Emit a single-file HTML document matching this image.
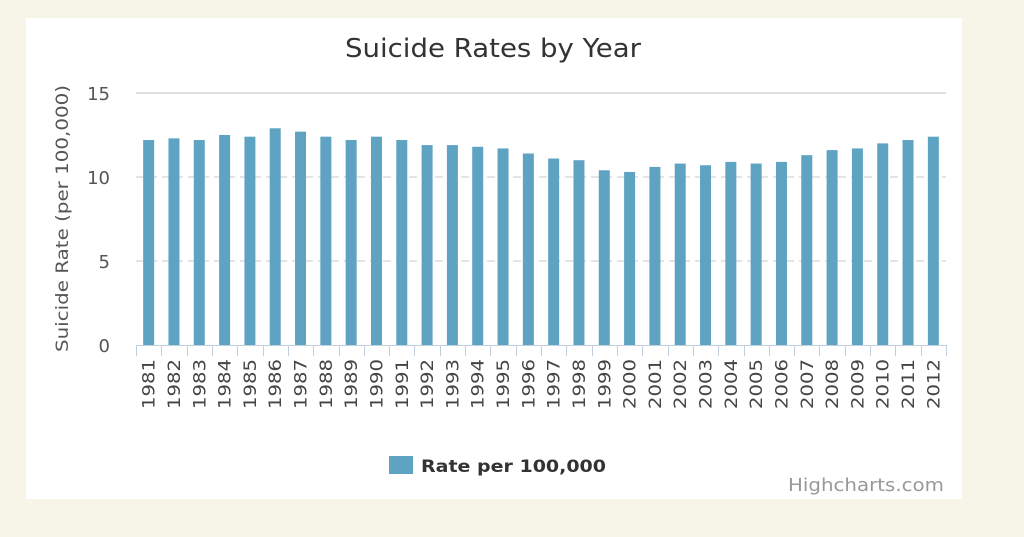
<!DOCTYPE html>
<html><head><style>
body{margin:0;background:#f7f5e8;}
</style></head><body>
<svg width="1024" height="532" xmlns="http://www.w3.org/2000/svg" font-family="DejaVu Sans, Liberation Sans, sans-serif">
<rect width="1024" height="532" fill="#f7f5e8"/>
<rect x="26" y="18" width="936" height="481" fill="#fff"/>
<text x="345" y="57" font-size="26" fill="#333" textLength="296" lengthAdjust="spacingAndGlyphs">Suicide Rates by Year</text>
<text transform="translate(68,352) rotate(-90)" font-size="17" fill="#555" textLength="267" lengthAdjust="spacingAndGlyphs">Suicide Rate (per 100,000)</text>
<line x1="136" y1="93" x2="946" y2="93" stroke="#c0c0c0" stroke-width="1"/>
<line x1="136" y1="177" x2="946" y2="177" stroke="#c8c8c8" stroke-dasharray="8,5"/>
<line x1="136" y1="261" x2="946" y2="261" stroke="#c8c8c8" stroke-dasharray="8,5"/>
<g font-size="18" fill="#555" text-anchor="end">
<text x="110" y="100">15</text><text x="110" y="184">10</text><text x="110" y="268">5</text><text x="110" y="352">0</text>
</g>
<g id="bars" fill="#5ea3c1"></g>
<line x1="136" y1="345.5" x2="946" y2="345.5" stroke="#c0d0e0"/>
<g id="ticks" stroke="#c0d0e0"></g>
<g id="labels" font-size="17" fill="#444"></g>
<rect x="389" y="456" width="24" height="18" fill="#5ea3c1"/>
<text x="421" y="472" font-size="17" font-weight="bold" fill="#333" textLength="185" lengthAdjust="spacingAndGlyphs">Rate per 100,000</text>
<text x="788" y="491" font-size="18" fill="#999" textLength="156" lengthAdjust="spacingAndGlyphs">Highcharts.com</text>
<script>
var v=[12.2,12.3,12.2,12.5,12.4,12.9,12.7,12.4,12.2,12.4,12.2,11.9,11.9,11.8,11.7,11.4,11.1,11.0,10.4,10.3,10.6,10.8,10.7,10.9,10.8,10.9,11.3,11.6,11.7,12.0,12.2,12.4];
var ns="http://www.w3.org/2000/svg",w=810/32,b=document.getElementById('bars'),t=document.getElementById('ticks'),l=document.getElementById('labels');
for(var i=0;i<32;i++){var c=136+w*(i+0.5),h=v[i]*16.8;
var r=document.createElementNS(ns,'rect');r.setAttribute('x',c-5.5);r.setAttribute('y',345-h);r.setAttribute('width',11);r.setAttribute('height',h);b.appendChild(r);
var x=Math.round(136+w*i)+0.5;var k=document.createElementNS(ns,'line');k.setAttribute('x1',x);k.setAttribute('x2',x);k.setAttribute('y1',345);k.setAttribute('y2',356);t.appendChild(k);
var s=document.createElementNS(ns,'text');s.setAttribute('transform','translate('+(c+6)+',359) rotate(-90)');s.setAttribute('text-anchor','end');s.setAttribute('textLength','50');s.setAttribute('lengthAdjust','spacingAndGlyphs');s.textContent=1981+i;l.appendChild(s);}
var k=document.createElementNS(ns,'line');k.setAttribute('x1',946.5);k.setAttribute('x2',946.5);k.setAttribute('y1',345);k.setAttribute('y2',356);t.appendChild(k);
</script>
</svg>
</body></html>
